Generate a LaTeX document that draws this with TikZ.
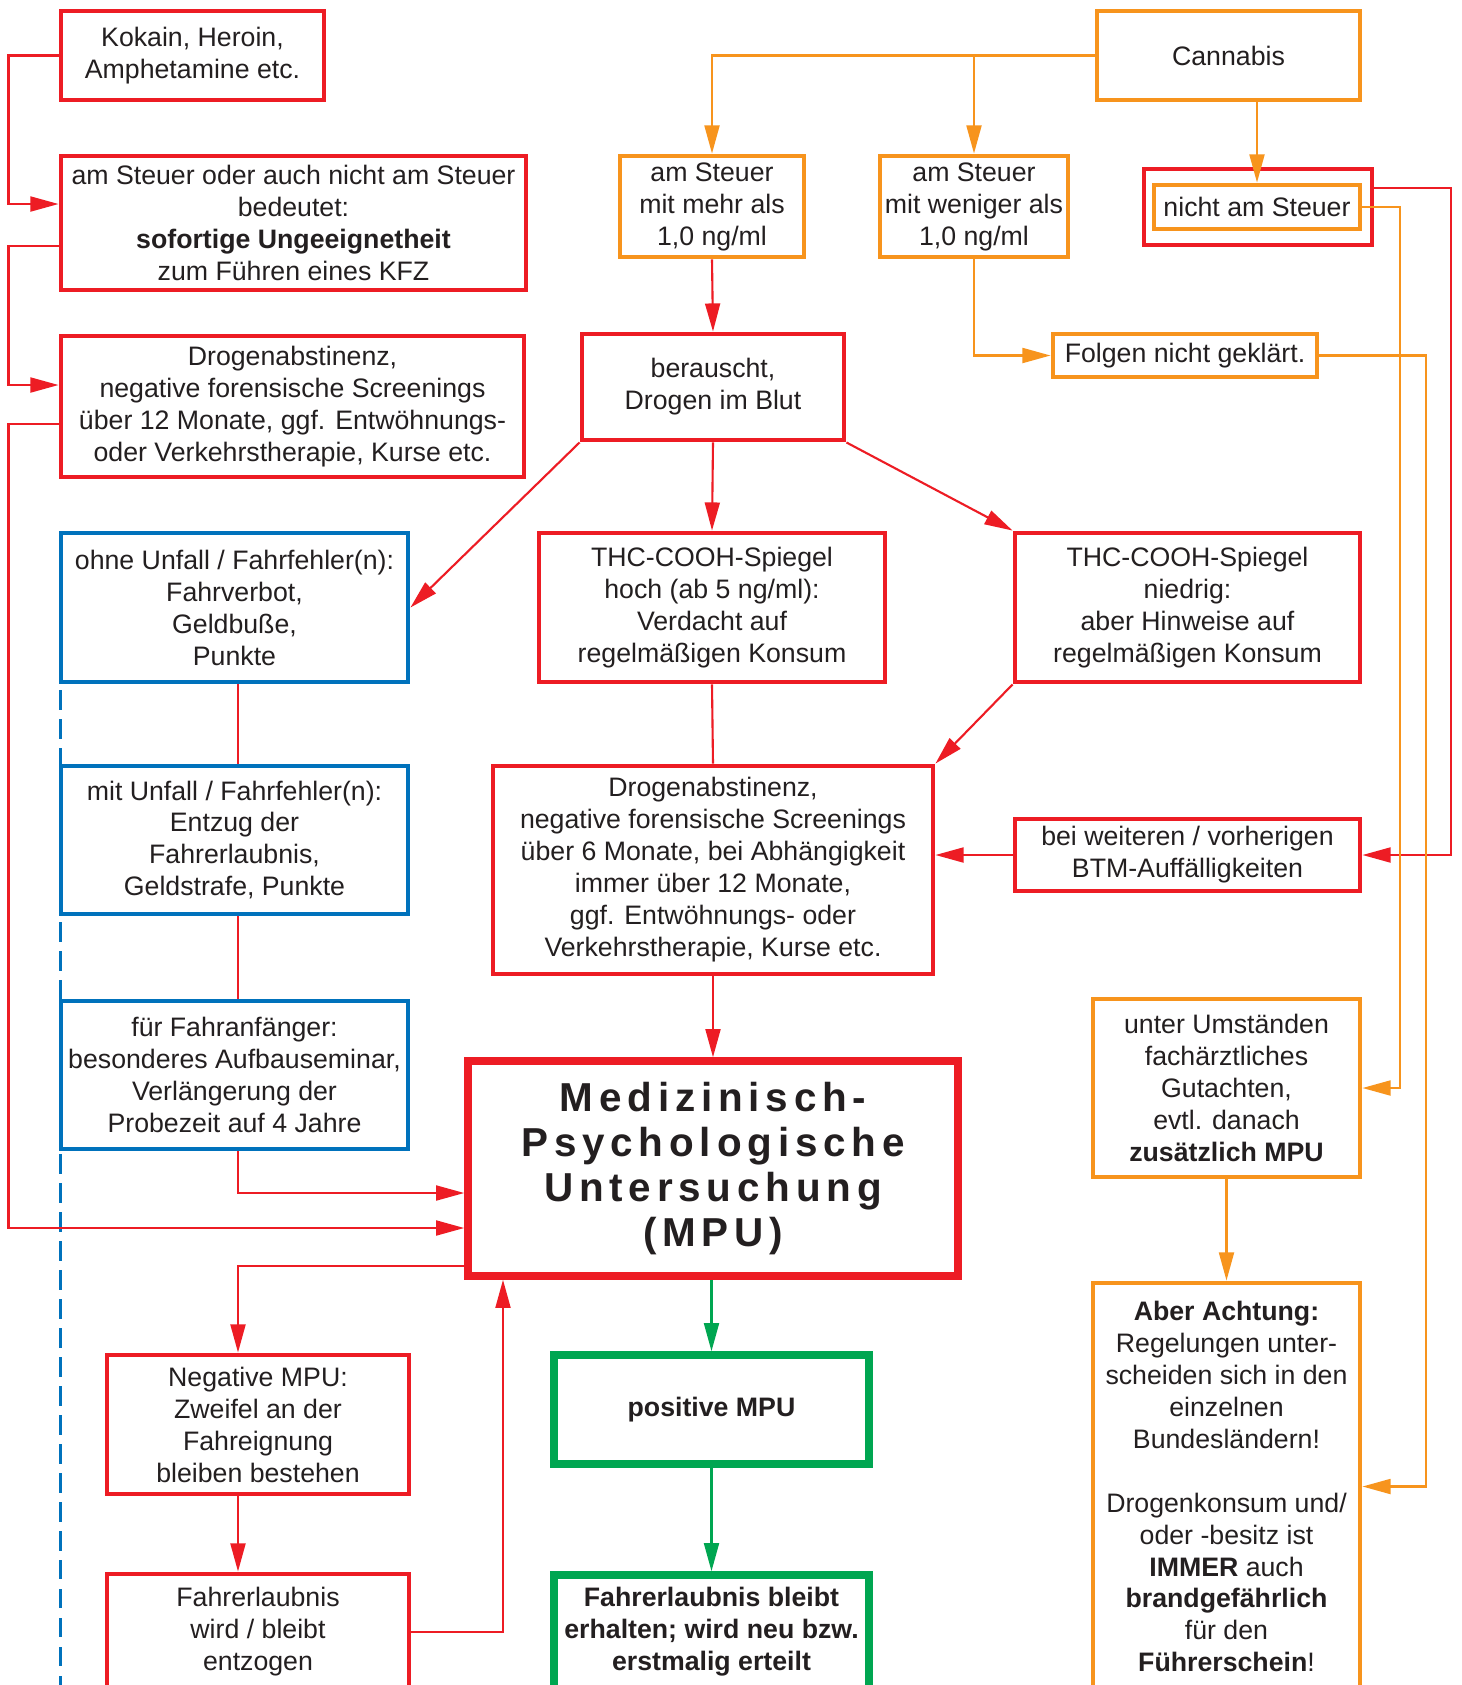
\documentclass[tikz,border=0pt]{standalone}
\usepackage{fontspec}
\setmainfont{Liberation Sans}
\newfontfamily\mpufont[LetterSpace=14.4]{Liberation Sans}
\usepackage{xcolor}
\usetikzlibrary{arrows.meta}
\definecolor{mpured}{RGB}{237,28,36}
\definecolor{mpuorange}{RGB}{247,148,29}
\definecolor{mpublue}{RGB}{0,114,188}
\definecolor{mpugreen}{RGB}{0,166,81}
\definecolor{ink}{RGB}{35,31,32}
\newcommand\boxfont{\fontsize{15.2}{18.2}\selectfont}

\begin{document}
\begin{tikzpicture}[x=0.02cm, y=-0.02cm,
  flowbox/.style={draw, fill=white, line width=2.8pt, align=center, inner sep=0pt, text=ink, font=\boxfont},
  wh/.style 2 args={minimum width=#1*0.02cm, minimum height=#2*0.02cm},
  redbox/.style={flowbox, draw=mpured},
  orangebox/.style={flowbox, draw=mpuorange},
  bluebox/.style={flowbox, draw=mpublue},
  greenbox/.style={flowbox, draw=mpugreen, line width=4.3pt},
  wire/.style={line width=1.2pt},
  wirearrow/.style={wire, -{Triangle[length=16pt, width=8.5pt]}}]
  \path[use as bounding box, fill=white] (0,0) rectangle (1462,1685);

  % Left column: hard drugs
  \node[redbox, wh={263}{89}] (kokain) at (192.5,55.5) {Kokain, Heroin,\\Amphetamine etc.};
  \node[redbox, wh={465}{134}] (ungeeignet) at (293.5,223)
    {am Steuer oder auch nicht am Steuer\\bedeutet:\\\textbf{sofortige Ungeeignetheit}\\zum Führen eines KFZ};
  \node[redbox, wh={463}{141}] (abst12) at (292.5,406.5)
    {Drogenabstinenz,\\negative forensische Screenings\\über 12 Monate, ggf. Entwöhnungs-\\oder Verkehrstherapie, Kurse etc.};

  % Blue column: penalties
  \node[bluebox, wh={347}{149}] (ohne) at (234.5,607.5) {ohne Unfall / Fahrfehler(n):\\Fahrverbot,\\Geldbuße,\\Punkte};
  \node[bluebox, wh={347}{148}] (mit) at (234.5,840) {mit Unfall / Fahrfehler(n):\\Entzug der\\Fahrerlaubnis,\\Geldstrafe, Punkte};
  \node[bluebox, wh={347}{148}] (anfaenger) at (234.5,1075)
    {für Fahranfänger:\\besonderes Aufbauseminar,\\Verlängerung der\\Probezeit auf 4 Jahre};

  % Cannabis branch
  \node[orangebox, wh={263}{89}] (cannabis) at (1228.5,55.5) {Cannabis};
  \node[orangebox, wh={184}{101}] (mehr) at (712,206.5) {am Steuer\\mit mehr als\\1,0 ng/ml};
  \node[orangebox, wh={188}{101}] (weniger) at (974,206.5) {am Steuer\\mit weniger als\\1,0 ng/ml};
  \node[redbox, wh={228}{76}] (nichtout) at (1258,207) {};
  \node[orangebox, wh={206}{44}] (nichtin) at (1257,207) {nicht am Steuer};
  \node[redbox, wh={262}{106}] (berauscht) at (713,387) {berauscht,\\Drogen im Blut};
  \node[orangebox, wh={264}{43}] (folgen) at (1185,355.5) {Folgen nicht geklärt.};
  \node[redbox, wh={346}{149}] (thchoch) at (712,607.5)
    {THC-COOH-Spiegel\\hoch (ab 5 ng/ml):\\Verdacht auf\\regelmäßigen Konsum};
  \node[redbox, wh={345}{149}] (thcniedrig) at (1187.5,607.5)
    {THC-COOH-Spiegel\\niedrig:\\aber Hinweise auf\\regelmäßigen Konsum};
  \node[redbox, wh={440}{208}] (abst6) at (713,870)
    {Drogenabstinenz,\\negative forensische Screenings\\über 6 Monate, bei Abhängigkeit\\immer über 12 Monate,\\ggf. Entwöhnungs- oder\\Verkehrstherapie, Kurse etc.};
  \node[redbox, wh={345}{72}] (btm) at (1187.5,855) {bei weiteren / vorherigen\\BTM-Auffälligkeiten};
  \node[orangebox, wh={267}{178}] (umstaende) at (1226.5,1088)
    {unter Umständen\\fachärztliches\\Gutachten,\\evtl. danach\\\textbf{zusätzlich MPU}};
  \node[orangebox, wh={267}{407}] (achtung) at (1226.5,1486.5)
    {\textbf{Aber Achtung:}\\Regelungen unter-\\scheiden sich in den\\einzelnen\\Bundesländern!\\[18.2pt]Drogenkonsum und/\\oder -besitz ist\\\textbf{IMMER} auch\\\textbf{brandgefährlich}\\für den\\\textbf{Führerschein}!};

  % MPU and outcomes
  \node[redbox, line width=4.3pt, wh={490}{215}, font={\mpufont\bfseries\fontsize{23}{25.5}\selectfont}] (mpu) at (713,1168.5)
    {Medizinisch-\\Psychologische\\Untersuchung\\(MPU)};
  \node[redbox, wh={302}{139}] (negativ) at (258,1424.5) {Negative MPU:\\Zweifel an der\\Fahreignung\\bleiben bestehen};
  \node[redbox, wh={302}{116}] (entzogen) at (258,1632) {Fahrerlaubnis\\wird / bleibt\\entzogen};
  \node[greenbox, wh={315}{109}] (positiv) at (711.5,1409.5) {\textbf{positive MPU}};
  \node[greenbox, wh={315}{114}] (bleibt) at (711.5,1632)
    {\textbf{Fahrerlaubnis bleibt}\\\textbf{erhalten; wird neu bzw.}\\\textbf{erstmalig erteilt}};

  % Rails
  \coordinate (colL) at (238,0);
  \coordinate (colM) at (503,0);
  \coordinate (railO) at (1400,0);
  \coordinate (railF) at (1426,0);
  \coordinate (railR) at (1451,0);

  % Dashed marker along blue column
  \draw[mpublue, line width=1.2pt, dash pattern=on 11pt off 5.5pt] ([xshift=0.04cm, yshift=-0.12cm]ohne.south west) -- ++(0,1050);

  % Left rail connectors
  \draw[wirearrow, mpured] (kokain.west) -- ++(-50,0) |- ([yshift=0.38cm]ungeeignet.west);
  \draw[wirearrow, mpured] ([yshift=-0.46cm]ungeeignet.west) -- ++(-50,0) |- ([yshift=0.43cm]abst12.west);
  \draw[wirearrow, mpured] ([yshift=-0.35cm]abst12.west) -- ++(-50,0) |- ([yshift=-1.19cm]mpu.west);

  % Cannabis connectors
  \draw[wirearrow, mpuorange] (cannabis.west) -| (mehr.north);
  \draw[wirearrow, mpuorange] (weniger.north |- cannabis.west) -- (weniger.north);
  \draw[wirearrow, mpuorange] (nichtin.north |- cannabis.south) -- (nichtin.north);
  \draw[wirearrow, mpuorange] (weniger.south) |- (folgen.west);
  \draw[wirearrow, mpured] (mehr.south) -- (berauscht.north);
  \draw[wirearrow, mpured] (berauscht.south west) -- (ohne.east);
  \draw[wirearrow, mpured] (berauscht.south) -- (thchoch.north);
  \draw[wirearrow, mpured] (berauscht.south east) -- (thcniedrig.north west);
  \draw[wirearrow, mpured] (thcniedrig.south west) -- (abst6.north east);
  \draw[wire, mpured] (thchoch.south) -- (abst6.north);
  \draw[wirearrow, mpured] (abst6.south) -- (mpu.north);
  \draw[wirearrow, mpured] (btm.west) -- (btm.west -| abst6.east);
  \draw[wirearrow, mpured] ([yshift=0.38cm]nichtout.east) -| (railR |- btm.east) -- (btm.east);
  \draw[wirearrow, mpuorange] (nichtin.east) -| (railO |- umstaende.east) -- (umstaende.east);
  \draw[wirearrow, mpuorange] (folgen.east) -| (railF |- achtung.east) -- (achtung.east);
  \draw[wirearrow, mpuorange] (umstaende.south) -- (achtung.north);

  % Blue column connectors
  \draw[wire, mpured] (ohne.south -| colL) -- (mit.north -| colL);
  \draw[wire, mpured] (mit.south -| colL) -- (anfaenger.north -| colL);
  \draw[wirearrow, mpured] (anfaenger.south -| colL) |- ([yshift=-0.49cm]mpu.west);

  % MPU outcomes
  \draw[wirearrow, mpured] ([yshift=-1.95cm]mpu.west) -| (negativ.north -| colL);
  \draw[wirearrow, mpured] (negativ.south -| colL) -- (entzogen.north -| colL);
  \draw[wirearrow, mpured] (entzogen.east) -| (mpu.south -| colM);
  \draw[wirearrow, mpugreen] (positiv.north |- mpu.south) -- (positiv.north);
  \draw[wirearrow, mpugreen] (positiv.south) -- (bleibt.north);
\end{tikzpicture}
\end{document}
